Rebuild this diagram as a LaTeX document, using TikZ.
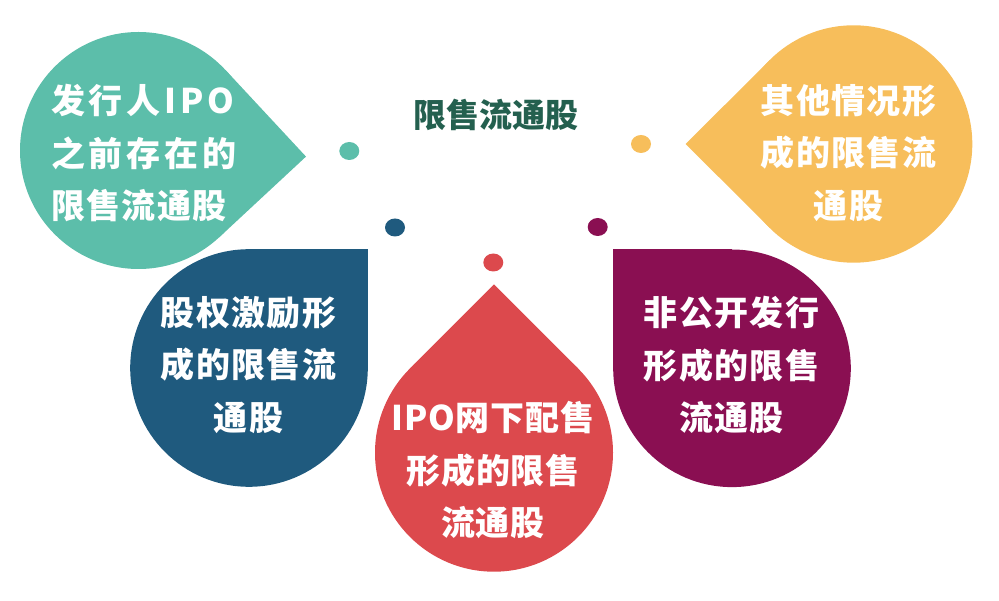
\documentclass[tikz,border=0pt]{standalone}
\usepackage{fontspec}
\newfontfamily\cjk{Noto Sans CJK SC}
\definecolor{cteal}{HTML}{5CBEAA}
\definecolor{cyellow}{HTML}{F7BE5B}
\definecolor{cblue}{HTML}{1F5A7E}
\definecolor{cred}{HTML}{DC494D}
\definecolor{cpurple}{HTML}{8A0F52}
\definecolor{ctitle}{HTML}{24604F}
\tikzset{
  txt/.style={text=white, inner sep=0pt, align=center,
    font=\cjk\bfseries\addfontfeature{LetterSpace=#1}\fontsize{34}{52.5}\selectfont},
  txt/.default=4,
  dot/.style={x radius=10pt, y radius=9pt}
}
\begin{document}
\begin{tikzpicture}[x=1pt,y=-1pt]
\useasboundingbox (0,0) rectangle (999,601);
% teal drop (tip right)
\fill[cteal] (138.5,150.5) circle[radius=118.5pt];
\fill[cteal] (138.5,150.5) -- (225.3,69.8) -- (306.0,156.6) -- (219.2,237.3) -- cycle;
% yellow drop (tip left)
\fill[cyellow] (853.6,144) circle[radius=118.7pt];
\fill[cyellow] (853.6,144) -- (769.7,60.1) -- (685.7,144) -- (769.7,227.9) -- cycle;
% blue drop (corner top right)
\fill[cblue] (249,368) circle[radius=118.8pt];
\fill[cblue] (249,249.2) rectangle (367.8,368);
% purple drop (corner top left)
\fill[cpurple] (732,368.3) circle[radius=118.8pt];
\fill[cpurple] (613.2,249.5) rectangle (732,368.3);
% red drop (tip up)
\fill[cred] (494,452.7) circle[radius=119pt];
\fill[cred] (494,452.7) -- (409.9,368.6) -- (494,284.4) -- (578.1,368.6) -- cycle;
% dots
\fill[cteal] (349.3,151) ellipse[dot];
\fill[cyellow] (641,144) ellipse[dot];
\fill[cblue] (395,227.5) ellipse[dot];
\fill[cred] (493.3,262.5) ellipse[dot];
\fill[cpurple] (597.7,227) ellipse[dot];
% texts
\node[inner sep=0pt, text=ctitle, font=\cjk\bfseries\fontsize{33}{40}\selectfont] (title) at (495.5,115) {限售流通股};
\node[txt=11, align=left, anchor=west] (t1) at (51,153) {发行人IPO\\之前存在的\\{\addfontfeature{LetterSpace=4}限售流通股}};
\node[txt] (t2) at (848.5,153) {其他情况形\\成的限售流\\通股};
\node[txt] (t3) at (248.5,365) {股权激励形\\成的限售流\\通股};
\node[txt=2] (t4) at (493,470) {IPO网下配售\\形成的限售\\流通股};
\node[txt] (t5) at (731.5,365) {非公开发行\\形成的限售\\流通股};
\end{tikzpicture}
\end{document}
